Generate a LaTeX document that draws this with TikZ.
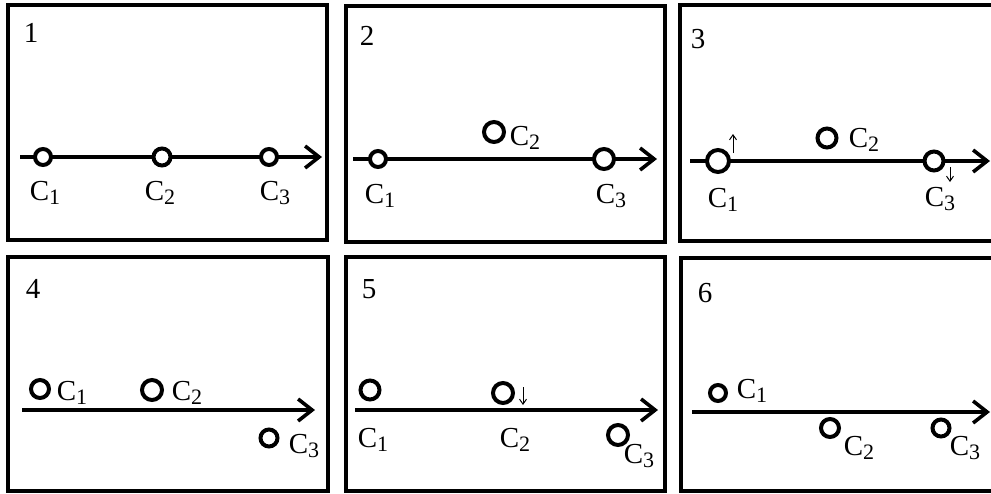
\documentclass[tikz,border=0pt]{standalone}
\usepackage{fontspec}
\setmainfont{Liberation Serif}
\usetikzlibrary{arrows.meta}
\newcommand{\csub}[1]{\raisebox{-2.2pt}{\fontsize{11}{11}\selectfont#1}}

\begin{document}
\begin{tikzpicture}[
    x=0.5pt, y=-0.5pt,
    panel/.style={line width=1.7pt},
    axisline/.style={line width=1.8pt, -{Straight Barb[length=7pt,width=11pt]}},
    ball/.style={circle, draw, fill=white, line width=2pt, inner sep=0pt, minimum size=#1},
    ball/.default=8pt,
    lbl/.style={font=\fontsize{14.5}{16}\selectfont, inner sep=0pt, anchor=base},
    drift/.style={line width=0.5pt, -{Straight Barb[length=2.5pt,width=3.5pt]}}
  ]
    \useasboundingbox (0,0) rectangle (991,493);

    % frames
    \draw[panel] (8,5) rectangle (327,240);
    \draw[panel] (346,6) rectangle (665,242);
    \draw[panel] (680,5) rectangle (1000,241);
    \draw[panel] (8,257) rectangle (328,491);
    \draw[panel] (346,257) rectangle (665,491);
    \draw[panel] (681,258) rectangle (1000,491);

    % 1
    \node[lbl] (n1) at (31,42) {1};
    \coordinate (a1s) at (20,157);
    \coordinate (a1e) at (322,157);
    \draw[axisline] (a1s) -- (a1e);
    \node[ball=8pt] (p1c1) at (43,157) {};
    \node[ball=8.5pt] (p1c2) at (162,157) {};
    \node[ball=8pt] (p1c3) at (269,157) {};
    \node[lbl] (p1l1) at (45,200) {C\csub{1}};
    \node[lbl] (p1l2) at (160,200) {C\csub{2}};
    \node[lbl] (p1l3) at (275,200) {C\csub{3}};

    % 2
    \node[lbl] (n2) at (367,45) {2};
    \coordinate (a2s) at (353,159);
    \coordinate (a2e) at (657,159);
    \draw[axisline] (a2s) -- (a2e);
    \node[ball=8pt] (p2c1) at (378,159) {};
    \node[ball=10pt] (p2c2) at (494,132) {};
    \node[ball=10pt] (p2c3) at (604,159) {};
    \node[lbl] (p2l1) at (380,203) {C\csub{1}};
    \node[lbl] (p2l2) at (525,145) {C\csub{2}};
    \node[lbl] (p2l3) at (611,203) {C\csub{3}};

    % 3
    \node[lbl] (n3) at (698,48) {3};
    \coordinate (a3s) at (690,161);
    \coordinate (a3e) at (990,161);
    \draw[axisline] (a3s) -- (a3e);
    \node[ball=11pt] (p3c1) at (718,161) {};
    \node[ball=9.5pt] (p3c2) at (827,138) {};
    \node[ball=9.5pt] (p3c3) at (934,161) {};
    \node[lbl] (p3l1) at (723,207) {C\csub{1}};
    \node[lbl] (p3l2) at (864,147) {C\csub{2}};
    \node[lbl] (p3l3) at (940,206) {C\csub{3}};
    \coordinate (u3a) at (733,153);
    \coordinate (u3b) at (733,134);
    \coordinate (d3a) at (950,167);
    \coordinate (d3b) at (950,182);
    \draw[drift] (u3a) -- (u3b);
    \draw[drift] (d3a) -- (d3b);

    % 4
    \node[lbl] (n4) at (33,298) {4};
    \coordinate (a4s) at (22,410);
    \coordinate (a4e) at (315,410);
    \draw[axisline] (a4s) -- (a4e);
    \node[ball=9pt] (p4c1) at (40,389) {};
    \node[ball=10pt] (p4c2) at (152,390) {};
    \node[ball=8.5pt] (p4c3) at (269,438) {};
    \node[lbl] (p4l1) at (72,400) {C\csub{1}};
    \node[lbl] (p4l2) at (187,400) {C\csub{2}};
    \node[lbl] (p4l3) at (304,453) {C\csub{3}};

    % 5
    \node[lbl] (n5) at (369,298) {5};
    \coordinate (a5s) at (355,410);
    \coordinate (a5e) at (658,410);
    \draw[axisline] (a5s) -- (a5e);
    \node[ball=9.5pt] (p5c1) at (370,390) {};
    \node[ball=10pt] (p5c2) at (503,393) {};
    \node[ball=10pt] (p5c3) at (618,435) {};
    \node[lbl] (p5l1) at (373,447) {C\csub{1}};
    \node[lbl] (p5l2) at (515,447) {C\csub{2}};
    \node[lbl] (p5l3) at (639,463) {C\csub{3}};
    \coordinate (d5a) at (523,387);
    \coordinate (d5b) at (523,405);
    \draw[drift] (d5a) -- (d5b);

    % 6
    \node[lbl] (n6) at (705,302) {6};
    \coordinate (a6s) at (692,412);
    \coordinate (a6e) at (990,412);
    \draw[axisline] (a6s) -- (a6e);
    \node[ball=8pt] (p6c1) at (718,393) {};
    \node[ball=9pt] (p6c2) at (830,428) {};
    \node[ball=8.5pt] (p6c3) at (941,428) {};
    \node[lbl] (p6l1) at (752,398) {C\csub{1}};
    \node[lbl] (p6l2) at (859,455) {C\csub{2}};
    \node[lbl] (p6l3) at (965,455) {C\csub{3}};
  \end{tikzpicture}
\end{document}
